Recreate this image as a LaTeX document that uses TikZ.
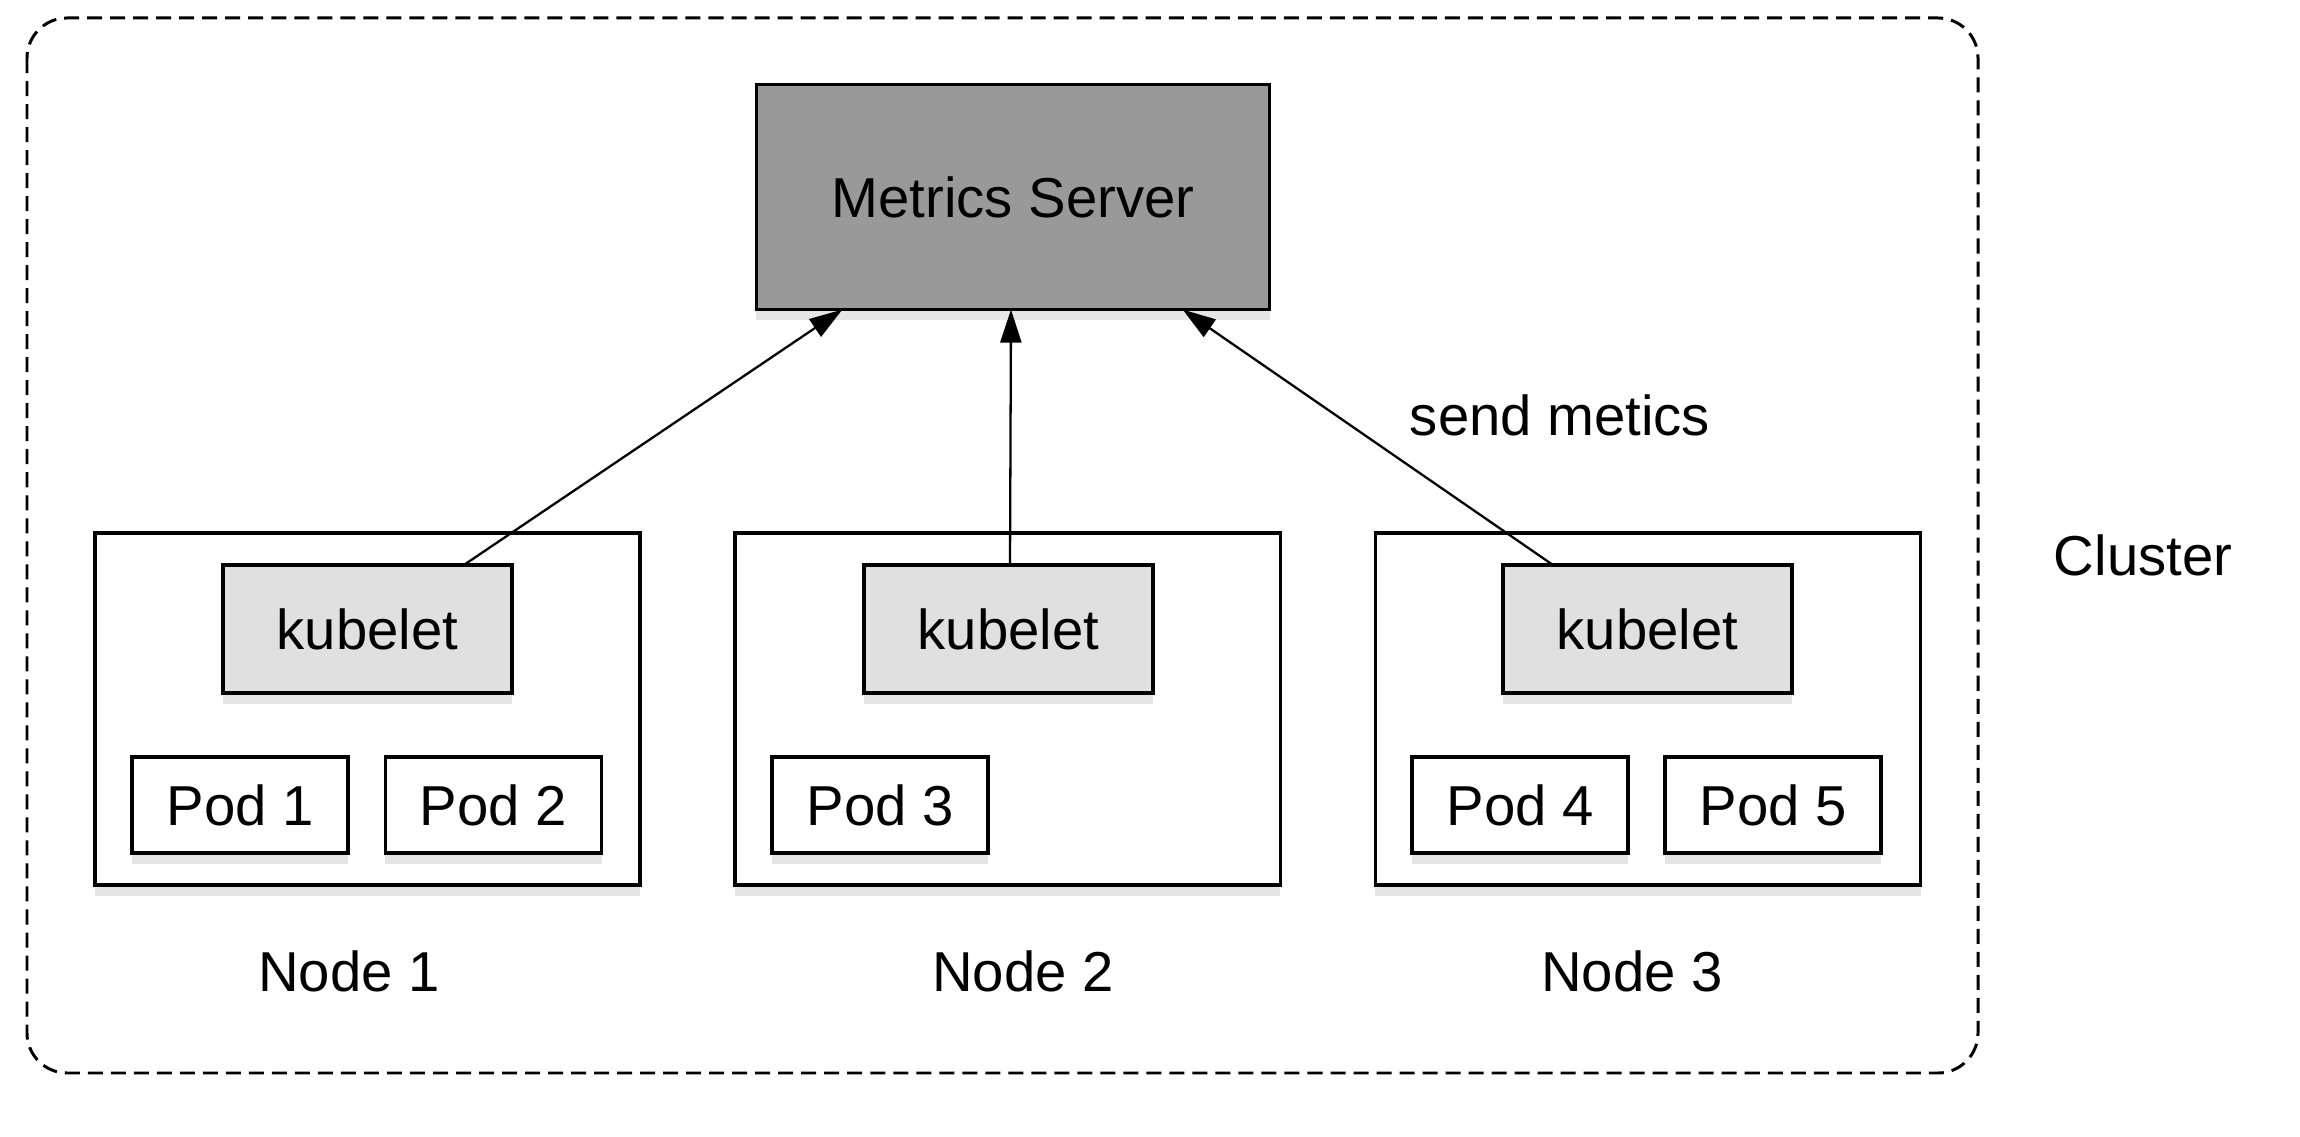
\documentclass[tikz,border=0pt]{standalone}
\usepackage{fontspec}
\setmainfont{Liberation Sans}
\usetikzlibrary{arrows.meta,calc,shadows}
\begin{document}
\begin{tikzpicture}[x=0.01cm,y=-0.01cm,
  every node/.style={font=\fontsize{16}{19}\selectfont},
  shad/.style={drop shadow={shadow xshift=0pt,shadow yshift=-3pt,opacity=0.10,fill=black}},
  box/.style={draw=black,line width=0.95pt,inner sep=0pt,outer sep=0pt,shad},
  msbox/.style={box,fill=black!40,minimum width=5.13cm,minimum height=2.25cm},
  nodebox/.style={box,fill=white,minimum width=5.45cm,minimum height=3.52cm},
  kubebox/.style={box,fill=black!12,minimum width=2.89cm,minimum height=1.28cm},
  podbox/.style={box,fill=white,minimum width=2.16cm,minimum height=0.96cm},
  label/.style={inner sep=0pt},
  conn/.style={line width=0.65pt,-{Triangle[length=0.33cm,width=0.21cm]}},
  clusterbox/.style={draw=black,line width=0.85pt,dash pattern=on 0.15cm off 0.08cm,rounded corners=0.4cm}
]
\useasboundingbox (0,0) rectangle (2300,1137);
\draw[clusterbox] (27,18) rectangle (1978,1073);

\node[msbox] (ms) at (1013,197) {Metrics Server};

\node[nodebox] (n1) at (367.5,709) {};
\node[nodebox] (n2) at (1007.5,709) {};
\node[nodebox] (n3) at (1648,709) {};

\node[kubebox] (k1) at (367.5,629) {kubelet};
\node[kubebox] (k2) at (1008.5,629) {kubelet};
\node[kubebox] (k3) at (1647.5,629) {kubelet};

\node[podbox] (p1) at (240,805) {Pod 1};
\node[podbox] (p2) at (493.5,805) {Pod 2};
\node[podbox] (p3) at (880,805) {Pod 3};
\node[podbox] (p4) at (1520,805) {Pod 4};
\node[podbox] (p5) at (1773,805) {Pod 5};

\node[label] (l1) at (349,971) {Node 1};
\node[label] (l2) at (1023,971) {Node 2};
\node[label] (l3) at (1632,971) {Node 3};
\node[label] (cl) at (2143,555) {Cluster};
\node[label] (sm) at (1560,415) {send metics};

\draw[conn] ($(k1.north west)+(241,0)$) -- ($(ms.south west)+(86,0)$);
\draw[conn] ($(k2.north)+(1.5,0)$) -- ($(ms.south)+(-2,0)$);
\draw[conn] ($(k3.north west)+(50,0)$) -- ($(ms.south east)+(-87,0)$);
\end{tikzpicture}
\end{document}
